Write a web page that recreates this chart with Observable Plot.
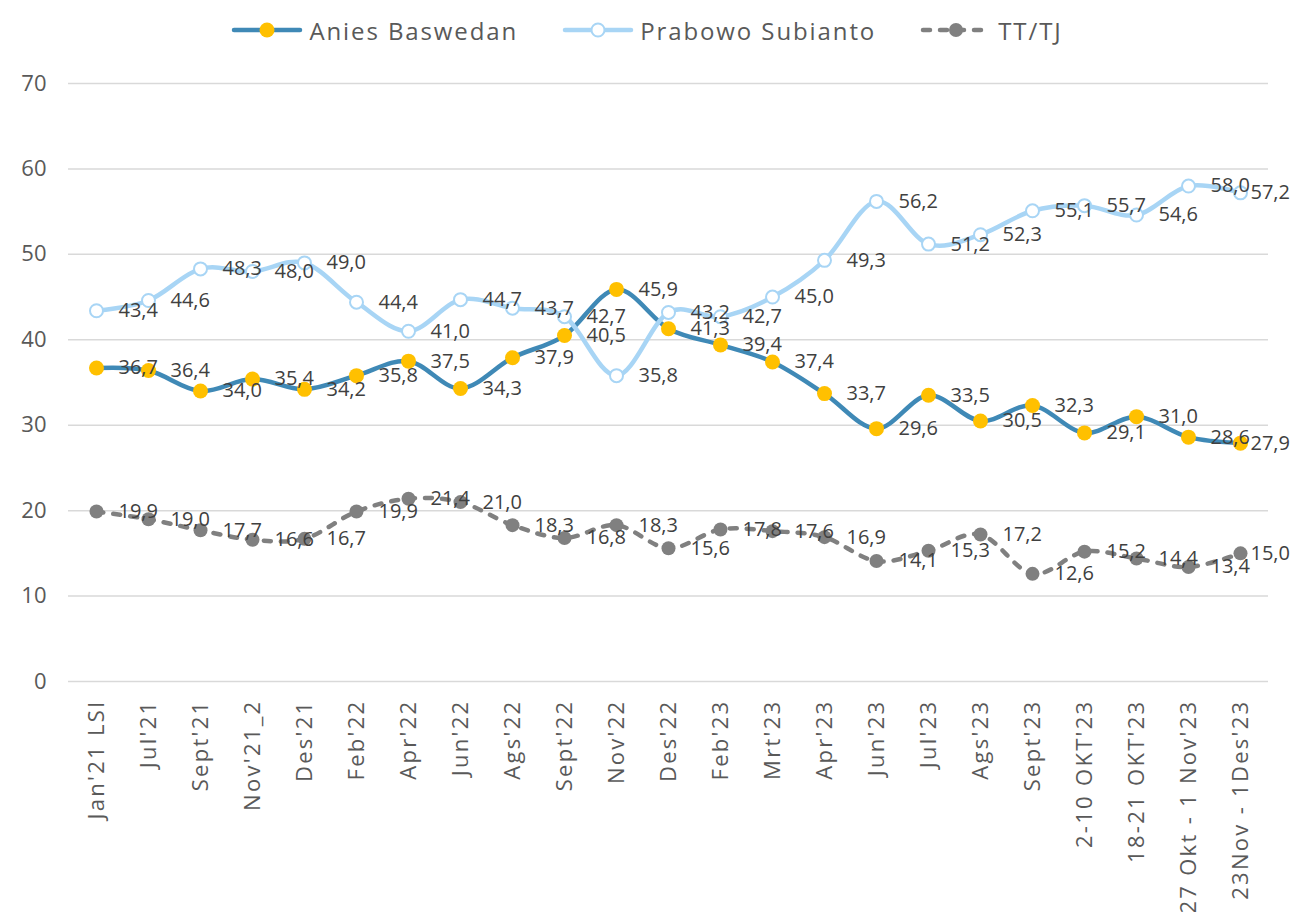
<!DOCTYPE html>
<html>
<head>
<meta charset="utf-8">
<script src="https://cdn.jsdelivr.net/npm/d3@7"></script>
<script src="https://cdn.jsdelivr.net/npm/@observablehq/plot@0.6"></script>
<style>
  body { margin: 0; background: #fff; font-family: "Open Sans", sans-serif; }
  #legend { height: 60px; display: flex; justify-content: center; align-items: center; gap: 0; }
  .item { display: flex; align-items: center; font-size: 24px; letter-spacing: 1.9px; color: #595959; margin: 0 22px; }
  .item svg { margin-right: 6px; }
  #chart svg { display: block; }
  #chart g[aria-label="x-axis tick label"] { letter-spacing: 2.3px; }
</style>
</head>
<body>
<div id="legend"></div>
<div id="chart"></div>
<script>
const categories = ["Jan'21 LSI","Jul'21","Sept'21","Nov'21_2","Des'21","Feb'22","Apr'22","Jun'22","Ags'22","Sept'22","Nov'22","Des'22","Feb'23","Mrt'23","Apr'23","Jun'23","Jul'23","Ags'23","Sept'23","2-10 OKT'23","18-21 OKT'23","27 Okt - 1 Nov'23","23Nov - 1Des'23"];
const anies = [36.7,36.4,34.0,35.4,34.2,35.8,37.5,34.3,37.9,40.5,45.9,41.3,39.4,37.4,33.7,29.6,33.5,30.5,32.3,29.1,31.0,28.6,27.9];
const prabowo = [43.4,44.6,48.3,48.0,49.0,44.4,41.0,44.7,43.7,42.7,35.8,43.2,42.7,45.0,49.3,56.2,51.2,52.3,55.1,55.7,54.6,58.0,57.2];
const tttj = [19.9,19.0,17.7,16.6,16.7,19.9,21.4,21.0,18.3,16.8,18.3,15.6,17.8,17.6,16.9,14.1,15.3,17.2,12.6,15.2,14.4,13.4,15.0];
const seriesNames = ["Anies Baswedan","Prabowo Subianto","TT/TJ"];
const yTicks = [0,10,20,30,40,50,60,70];

const styles = {
  "Anies Baswedan": {line: "#3F89B6", dash: null, fill: "#FFC000", stroke: "#FFC000", r: 7.5},
  "Prabowo Subianto": {line: "#A8D5F5", dash: null, fill: "#FFFFFF", stroke: "#A8D5F5", r: 6.5},
  "TT/TJ": {line: "#808080", dash: "7,10", fill: "#808080", stroke: "#808080", r: 7}
};

const seriesValues = [anies, prabowo, tttj];
const rows = [];
seriesNames.forEach((s, i) => categories.forEach((c, j) => rows.push({series: s, cat: c, v: seriesValues[i][j]})));
const fmt = v => v.toFixed(1).replace(".", ",");
const lastCat = categories[categories.length - 1];

const marks = [
  Plot.gridY(yTicks, {stroke: "#D9D9D9", strokeOpacity: 1, strokeWidth: 1.5}),
  Plot.axisY(yTicks, {tickSize: 0, tickPadding: 22, fontSize: 22, fill: "#595959", label: null, tickFormat: d => d}),
  Plot.axisX({tickRotate: -90, tickSize: 0, tickPadding: 18, fontSize: 22, fill: "#595959", label: null})
];
seriesNames.forEach(s => {
  const st = styles[s];
  const d = rows.filter(r => r.series === s);
  marks.push(Plot.line(d, {x: "cat", y: "v", stroke: st.line, strokeWidth: 4.5, curve: "cardinal", tension: 0,
    strokeDasharray: st.dash, strokeLinecap: "round"}));
  marks.push(Plot.dot(d, {x: "cat", y: "v", r: st.r, fill: st.fill, stroke: st.stroke, strokeWidth: s === "Prabowo Subianto" ? 2 : 0}));
});
marks.push(Plot.text(rows.filter(r => r.cat !== lastCat), {x: "cat", y: "v", text: d => fmt(d.v), dx: 22, textAnchor: "start", fontSize: 20, fill: "#404040"}));
marks.push(Plot.text(rows.filter(r => r.cat === lastCat), {x: "cat", y: "v", text: d => fmt(d.v), dx: 10, textAnchor: "start", fontSize: 20, fill: "#404040"}));

const chart = Plot.plot({
  width: 1294, height: 852,
  marginLeft: 68, marginRight: 26, marginTop: 23, marginBottom: 231,
  style: {fontFamily: "'Open Sans', sans-serif", background: "#fff"},
  x: {type: "point", domain: categories, padding: 0.5, axis: null},
  y: {domain: [0, 70], axis: null},
  marks
});
document.getElementById("chart").appendChild(chart);

const legend = document.getElementById("legend");
seriesNames.forEach(s => {
  const st = styles[s];
  const item = document.createElement("div");
  item.className = "item";
  const ns = "http://www.w3.org/2000/svg";
  const svg = document.createElementNS(ns, "svg");
  svg.setAttribute("width", 72); svg.setAttribute("height", 20);
  const ln = document.createElementNS(ns, "line");
  ln.setAttribute("x1", 3); ln.setAttribute("x2", 69); ln.setAttribute("y1", 10); ln.setAttribute("y2", 10);
  ln.setAttribute("stroke", st.line); ln.setAttribute("stroke-width", 4.5); ln.setAttribute("stroke-linecap", "round");
  if (st.dash) ln.setAttribute("stroke-dasharray", "7,10");
  svg.appendChild(ln);
  const c = document.createElementNS(ns, "circle");
  c.setAttribute("cx", 36); c.setAttribute("cy", 10); c.setAttribute("r", st.r);
  c.setAttribute("fill", st.fill); c.setAttribute("stroke", st.stroke); c.setAttribute("stroke-width", s === "Prabowo Subianto" ? 2 : 0);
  svg.appendChild(c);
  item.appendChild(svg);
  const t = document.createElement("span");
  t.textContent = s;
  item.appendChild(t);
  legend.appendChild(item);
});
</script>
</body>
</html>
